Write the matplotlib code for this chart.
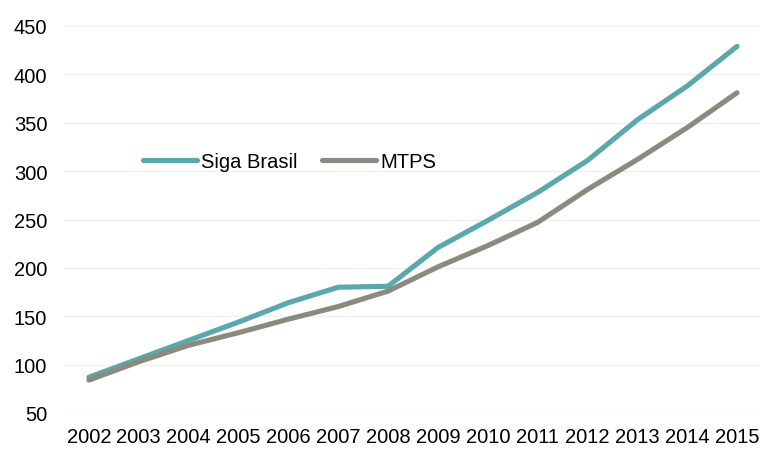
import matplotlib
matplotlib.use("Agg")
import matplotlib.pyplot as plt

years = ["2002", "2003", "2004", "2005", "2006", "2007", "2008",
         "2009", "2010", "2011", "2012", "2013", "2014", "2015"]
siga_brasil = [87, 106, 125, 144, 164, 180, 181, 221, 249, 278, 311, 353, 388, 429]
mtps = [84, 103, 120, 133, 147, 160, 176, 201, 223, 247, 281, 312, 345, 381]
yticks = [50, 100, 150, 200, 250, 300, 350, 400, 450]

plt.rcParams['font.family'] = ['Liberation Sans', 'DejaVu Sans']

fig = plt.figure(figsize=(7.6, 4.52), dpi=100)
ax = fig.add_axes([64/760, 38/452, (762-64)/760, (414-27)/452])

x = list(range(len(years)))
ax.plot(x, siga_brasil, color="#5BA8AC", lw=3.7, solid_capstyle="round", label="Siga Brasil", zorder=3)
ax.plot(x, mtps, color="#8A8A7F", lw=3.7, solid_capstyle="round", label="MTPS", zorder=3)

ax.set_xlim(-0.5, len(years) - 0.5)
ax.set_ylim(50, 450)
ax.set_yticks(yticks)
ax.set_xticks(x)
ax.set_xticklabels(years)
ax.grid(axis="y", color="#F0F0F0", lw=1)
ax.set_axisbelow(True)
for s in ax.spines.values():
    s.set_visible(False)
ax.tick_params(length=0, labelsize=14.5, colors="#000000")
ax.tick_params(axis="y", pad=12)
ax.tick_params(axis="x", pad=10)

leg = ax.legend(loc="center left", bbox_to_anchor=(0.087, 0.649), ncol=2, frameon=False,
                fontsize=14.5, handlelength=2.7, columnspacing=1.2, handletextpad=0.2)

fig.savefig("out.png", dpi=100)
